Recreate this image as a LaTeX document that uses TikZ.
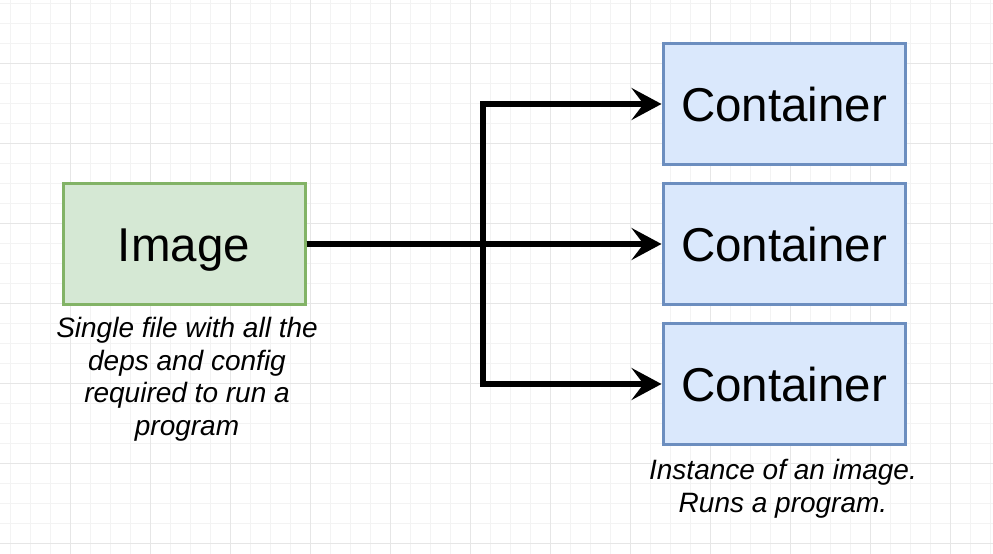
\documentclass[tikz,border=0pt]{standalone}
\usepackage{fontspec}
\setmainfont{Liberation Sans}
\usetikzlibrary{arrows.meta}
\definecolor{gridminor}{HTML}{F3F3F3}
\definecolor{gridmajor}{HTML}{E6E6E6}
\definecolor{imgfill}{HTML}{D5E8D4}
\definecolor{imgline}{HTML}{82B366}
\definecolor{confill}{HTML}{DAE8FC}
\definecolor{conline}{HTML}{6C8EBF}
\tikzset{
  minorgrid/.style={draw=gridminor, line width=1pt},
  majorgrid/.style={draw=gridmajor, line width=1pt},
  boxbase/.style={rectangle, line width=3pt, minimum width=242pt, minimum height=121pt, inner sep=0pt,
    text height=34pt, text depth=0pt, font=\fontsize{47.5}{56}\selectfont},
  imgbox/.style={boxbase, draw=imgline, fill=imgfill},
  conbox/.style={boxbase, draw=conline, fill=confill},
  captxt/.style={align=center, inner sep=0pt, font=\fontsize{28}{32.5}\selectfont\itshape},
  conn/.style={line width=5.5pt, line join=miter, -{Stealth[length=30pt, width=32pt, inset=12pt]}}
}
\begin{document}
\begin{tikzpicture}[x=1pt, y=-1pt]
\useasboundingbox (0,0) rectangle (993,554);
\fill[white] (0,0) rectangle (993,554);
\foreach \x in {10,30,...,990} \draw[minorgrid] (\x,0) -- (\x,554);
\foreach \y in {3,23,...,553} \draw[minorgrid] (0,\y) -- (993,\y);
\foreach \x in {70,150,...,990} \draw[majorgrid] (\x,0) -- (\x,554);
\foreach \y in {63,143,...,553} \draw[majorgrid] (0,\y) -- (993,\y);

\node[imgbox] (img) at (184,244) {Image};
\node[conbox] (c1) at (784,104) {Container};
\node[conbox] (c2) at (784,244) {Container};
\node[conbox] (c3) at (784,384) {Container};

\coordinate (j) at (483,244);
\draw[conn] (img.east) -- (c2.west);
\draw[conn] (img.east) -- (j) |- (c1.west);
\draw[conn] (img.east) -- (j) |- (c3.west);

\node[captxt, anchor=north] (capimg) at (187,317.5) {Single file with all the\\deps and config\\required to run a\\program};
\node[captxt, anchor=north] (capcon) at (783,459.5) {Instance of an image.\\Runs a program.};
\end{tikzpicture}
\end{document}
